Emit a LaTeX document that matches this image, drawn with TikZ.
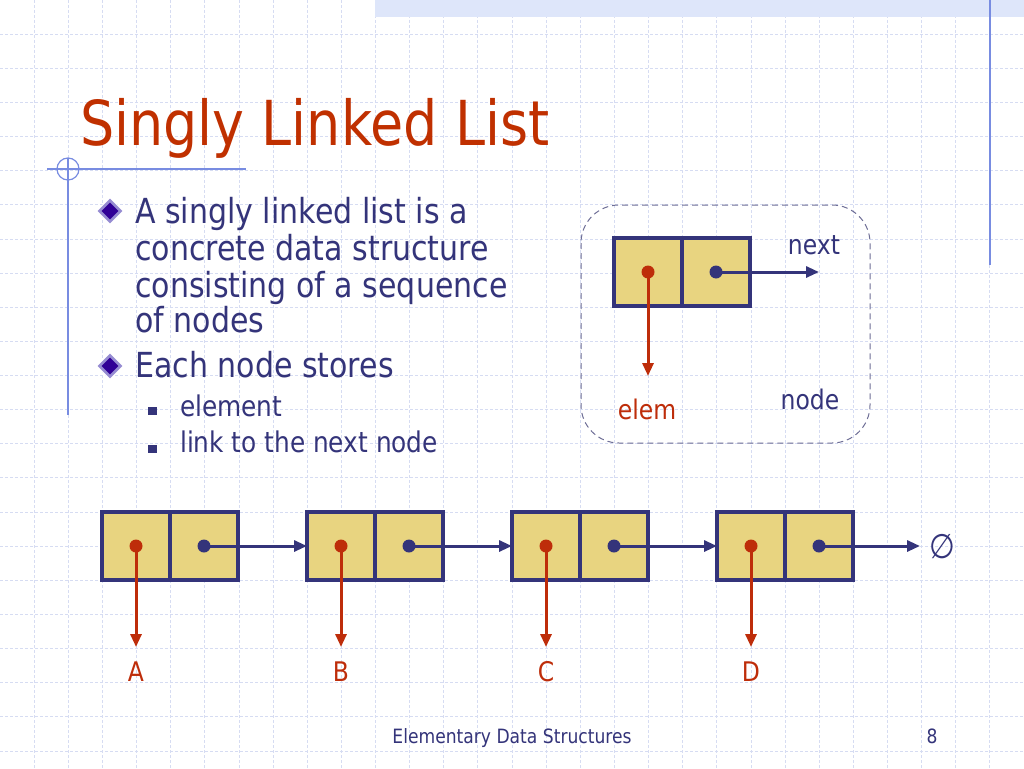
\documentclass[tikz,border=0pt]{standalone}
\usepackage{fontspec}
\setmainfont{DejaVu Sans}[FakeStretch=0.87]
\usetikzlibrary{arrows.meta}
\definecolor{txtblue}{RGB}{52,52,122}
\definecolor{titlered}{RGB}{192,48,0}
\definecolor{elemred}{RGB}{190,45,10}
\definecolor{cellfill}{RGB}{232,212,128}
\definecolor{gridc}{RGB}{214,220,242}
\definecolor{decoblue}{RGB}{120,140,225}
\definecolor{bandc}{RGB}{222,230,250}
\definecolor{dashc}{RGB}{110,110,150}
\definecolor{bulletc}{RGB}{48,0,150}
\definecolor{bulletedge}{RGB}{150,140,210}
\tikzset{
  x=1pt, y=-1pt,
  cell/.style={draw=txtblue, line width=4pt, fill=cellfill, minimum width=68pt, minimum height=68pt, inner sep=0pt, outer sep=0pt},
  nextarrow/.style={draw=txtblue, line width=3pt, -{Triangle[length=13pt,width=11pt]}},
  elemarrow/.style={draw=elemred, line width=3pt, -{Triangle[length=13pt,width=11pt]}},
  reddot/.style={circle, fill=elemred, minimum size=13pt, inner sep=0pt},
  bluedot/.style={circle, fill=txtblue, minimum size=13pt, inner sep=0pt},
  bodytxt/.style={anchor=base west, inner sep=0pt, text=txtblue, font=\fontsize{34.5}{36}\selectfont},
  subtxt/.style={anchor=base west, inner sep=0pt, text=txtblue, font=\fontsize{28.5}{30}\selectfont},
  lbl/.style={inner sep=0pt, font=\fontsize{27}{28}\selectfont},
}
\begin{document}
\begin{tikzpicture}
\useasboundingbox (0,0) rectangle (1024,768);
\fill[white] (0,0) rectangle (1024,768);
% grid
\foreach \i in {1,...,30} {
  \draw[gridc, line width=0.8pt, dash pattern=on 3pt off 2pt] ({\i*34.133},0) -- ({\i*34.133},768);
}
\foreach \j in {1,...,22} {
  \draw[gridc, line width=0.8pt, dash pattern=on 3pt off 2pt] (0,{\j*34.133}) -- (1024,{\j*34.133});
}
% top band
\fill[bandc] (375,0) rectangle (1024,17);
\draw[decoblue, line width=1.5pt] (990,0) -- (990,265);
% title decoration
\draw[decoblue, line width=1.2pt] (47,169) -- (246,169);
\draw[decoblue, line width=1.2pt] (68,158) -- (68,415);
\draw[decoblue, line width=1.2pt] (68,169) circle (11);
% title
\node[anchor=base west, inner sep=0pt, text=titlered, font=\fontsize{62}{62}\selectfont] (title) at (80,145) {Singly Linked List};
% bullets
\foreach \yy/\nm in {211/b1, 366/b2} {
  \fill[white] (110,\yy-14) -- (124,\yy) -- (110,\yy+14) -- (96,\yy) -- cycle;
  \filldraw[fill=bulletc, draw=bulletedge, line width=2.5pt] (110,\yy-10.5) -- (120.5,\yy) -- (110,\yy+10.5) -- (99.5,\yy) -- cycle;
}
\fill[txtblue] (148,407) rectangle (157,415);
\fill[txtblue] (148,445) rectangle (157,453);
\node[bodytxt] (l1) at (135,223) {A singly linked list is a};
\node[bodytxt] (l2) at (135,260) {concrete data structure};
\node[bodytxt] (l3) at (135,297) {consisting of a sequence};
\node[bodytxt] (l4) at (135,332) {of nodes};
\node[bodytxt] (l5) at (135,377) {Each node stores};
\node[subtxt] (s1) at (180,416) {element};
\node[subtxt] (s2) at (180,452) {link to the next node};
% inset
\draw[dashc, line width=1pt, dash pattern=on 6pt off 4pt, rounded corners=38pt] (581,205) rectangle (870,443);
\node[cell] (ie) at (648,272) {};
\node[cell] (in) at (716,272) {};
\node[reddot] (ied) at (ie.center) {};
\node[bluedot] (ind) at (in.center) {};
\coordinate (inext) at (819,272);
\coordinate (ielem) at (648,376);
\draw[nextarrow] (ind.center) -- (inext);
\draw[elemarrow] (ied.center) -- (ielem);
\node[lbl, text=txtblue] (tnext) at (814,245) {next};
\node[lbl, text=elemred] (telem) at (647,409) {elem};
\node[lbl, text=txtblue] (tnode) at (810,399) {node};
% list
\foreach \k/\x/\L in {1/136/A, 2/341/B, 3/546/C, 4/751/D} {
  \node[cell] (e\k) at (\x,546) {};
  \node[cell] (n\k) at (\x+68,546) {};
  \node[reddot] (ed\k) at (e\k.center) {};
  \node[bluedot] (nd\k) at (n\k.center) {};
  \coordinate (ee\k) at (\x,647);
  \node[lbl, text=elemred] (lab\k) at (\x,672) {\L};
  \draw[elemarrow] (ed\k.center) -- (ee\k);
}
\draw[nextarrow] (nd1.center) -- (e2.west);
\draw[nextarrow] (nd2.center) -- (e3.west);
\draw[nextarrow] (nd3.center) -- (e4.west);
\node[lbl, text=txtblue, font=\fontsize{34}{34}\selectfont] (null) at (942,547) {∅};
\coordinate (nullend) at (920,546);
\draw[nextarrow] (nd4.center) -- (nullend);
% footer
\node[anchor=base, inner sep=0pt, text=txtblue, font=\fontsize{19.7}{20}\selectfont] (foot) at (512,743) {Elementary Data Structures};
\node[anchor=base, inner sep=0pt, text=txtblue, font=\fontsize{19.7}{20}\selectfont] (pg) at (932,743) {8};
\end{tikzpicture}
\end{document}
